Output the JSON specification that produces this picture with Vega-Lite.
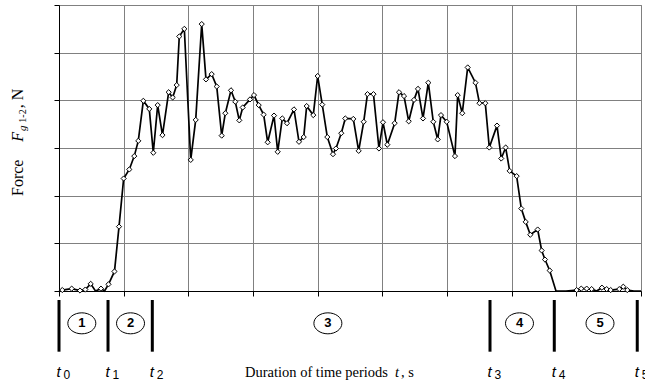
{
  "$schema": "https://vega.github.io/schema/vega-lite/v6.json",
  "width": 582,
  "height": 286,
  "autosize": {"type": "none"},
  "padding": {"left": 59, "top": 5, "right": 4, "bottom": 92},
  "background": "white",
  "config": {
    "view": {"stroke": "#808080", "strokeWidth": 1},
    "axis": {"labels": false, "domainColor": "#000", "domainWidth": 1, "tickColor": "#000", "tickSize": 5, "gridColor": "#808080", "gridOpacity": 1, "gridWidth": 1}
  },
  "datasets": {
    "force": [
      {"t":0,"F":0},{"t":0.051,"F":0.02},{"t":0.196,"F":0.05},{"t":0.325,"F":0.01},{"t":0.407,"F":0.03},
      {"t":0.49,"F":0.15},{"t":0.564,"F":0},{"t":0.649,"F":0.05},{"t":0.704,"F":0},{"t":0.765,"F":0.14},
      {"t":0.858,"F":0.41},{"t":0.928,"F":1.35},{"t":1.0,"F":2.36},{"t":1.087,"F":2.55},{"t":1.164,"F":2.83},
      {"t":1.226,"F":3.15},{"t":1.304,"F":3.99},{"t":1.396,"F":3.82},{"t":1.458,"F":2.9},{"t":1.526,"F":3.9},
      {"t":1.6,"F":3.27},{"t":1.696,"F":4.17},{"t":1.758,"F":4.06},{"t":1.82,"F":4.32},{"t":1.86,"F":5.34},
      {"t":1.938,"F":5.5},{"t":2.037,"F":2.75},{"t":2.114,"F":3.59},{"t":2.207,"F":5.6},{"t":2.273,"F":4.44},
      {"t":2.361,"F":4.55},{"t":2.439,"F":4.29},{"t":2.516,"F":3.26},{"t":2.572,"F":3.73},{"t":2.66,"F":4.21},
      {"t":2.726,"F":3.97},{"t":2.788,"F":3.58},{"t":2.841,"F":3.85},{"t":2.954,"F":4.02},{"t":3.015,"F":4.11},
      {"t":3.088,"F":3.9},{"t":3.165,"F":3.7},{"t":3.227,"F":3.12},{"t":3.325,"F":3.68},{"t":3.382,"F":2.92},
      {"t":3.453,"F":3.62},{"t":3.526,"F":3.52},{"t":3.634,"F":3.81},{"t":3.711,"F":3.13},{"t":3.784,"F":3.23},
      {"t":3.83,"F":3.88},{"t":3.932,"F":3.69},{"t":4.0,"F":4.51},{"t":4.071,"F":3.91},{"t":4.149,"F":3.23},
      {"t":4.237,"F":2.87},{"t":4.283,"F":2.99},{"t":4.365,"F":3.31},{"t":4.427,"F":3.62},{"t":4.551,"F":3.61},
      {"t":4.634,"F":2.94},{"t":4.712,"F":3.55},{"t":4.77,"F":4.13},{"t":4.863,"F":4.13},{"t":4.948,"F":2.99},
      {"t":5.01,"F":3.54},{"t":5.077,"F":3.07},{"t":5.191,"F":3.52},{"t":5.258,"F":4.17},{"t":5.335,"F":4.09},
      {"t":5.408,"F":3.56},{"t":5.49,"F":4.01},{"t":5.551,"F":4.24},{"t":5.629,"F":3.62},{"t":5.711,"F":4.37},
      {"t":5.788,"F":3.55},{"t":5.856,"F":3.18},{"t":5.907,"F":3.69},{"t":5.995,"F":3.55},{"t":6.123,"F":2.83},
      {"t":6.165,"F":4.11},{"t":6.236,"F":3.73},{"t":6.32,"F":4.69},{"t":6.44,"F":4.37},{"t":6.502,"F":3.94},
      {"t":6.592,"F":3.94},{"t":6.654,"F":3.01},{"t":6.773,"F":3.47},{"t":6.839,"F":2.78},{"t":6.907,"F":3.01},
      {"t":6.969,"F":2.52},{"t":7.077,"F":2.41},{"t":7.149,"F":1.73},{"t":7.217,"F":1.45},{"t":7.288,"F":1.18},
      {"t":7.402,"F":1.29},{"t":7.464,"F":0.85},{"t":7.515,"F":0.66},{"t":7.588,"F":0.43},{"t":7.685,"F":0},
      {"t":7.84,"F":0},{"t":8.005,"F":0.02},{"t":8.076,"F":0.05},{"t":8.16,"F":0.05},{"t":8.237,"F":0.04},
      {"t":8.314,"F":0},{"t":8.396,"F":0.07},{"t":8.469,"F":0.04},{"t":8.531,"F":0.02},{"t":8.664,"F":0.04},
      {"t":8.726,"F":0.09},{"t":8.788,"F":0.02},{"t":8.89,"F":0},{"t":9.0,"F":0}
    ],
    "periods": [
      {"k":"0","time":0},{"k":"1","time":0.758},{"k":"2","time":1.443},
      {"k":"3","time":6.665},{"k":"4","time":7.659},{"k":"5","time":8.942}
    ],
    "phases": [
      {"n":"1","c":0.353},{"n":"2","c":1.106},{"n":"3","c":4.158},{"n":"4","c":7.121},{"n":"5","c":8.366}
    ]
  },
  "layer": [
    {
      "data": {"name": "force"},
      "mark": {"type": "line", "color": "#000", "strokeWidth": 1.7},
      "encoding": {
        "x": {"field": "t", "type": "quantitative", "scale": {"domain": [0, 9], "nice": false}, "axis": {"values": [0,1,2,3,4,5,6,7,8,9], "title": null}},
        "y": {"field": "F", "type": "quantitative", "scale": {"domain": [0, 6], "nice": false}, "axis": {"values": [0,1,2,3,4,5,6], "title": null}}
      }
    },
    {
      "data": {"name": "force"},
      "transform": [{"filter": "datum.F > 0"}],
      "mark": {"type": "point", "shape": "diamond", "filled": true, "fill": "#fff", "stroke": "#000", "strokeWidth": 1, "size": 27, "opacity": 1},
      "encoding": {
        "x": {"field": "t", "type": "quantitative"},
        "y": {"field": "F", "type": "quantitative"}
      }
    },
    {
      "data": {"name": "periods"},
      "mark": {"type": "rule", "color": "#000", "strokeWidth": 3},
      "encoding": {
        "x": {"field": "time", "type": "quantitative"},
        "y": {"datum": -0.189},
        "y2": {"datum": -1.273}
      }
    },
    {
      "data": {"name": "phases"},
      "mark": {"type": "point", "shape": "M-1,0A1,0.75 0 1,0 1,0A1,0.75 0 1,0 -1,0Z", "filled": true, "fill": "#fff", "stroke": "#000", "strokeWidth": 1, "size": 784, "opacity": 1},
      "encoding": {
        "x": {"field": "c", "type": "quantitative"},
        "y": {"datum": -0.678}
      }
    },
    {
      "data": {"name": "phases"},
      "mark": {"type": "text", "font": "Liberation Sans", "fontWeight": "bold", "fontSize": 13, "align": "center", "baseline": "middle", "color": "#000"},
      "encoding": {
        "x": {"field": "c", "type": "quantitative"},
        "y": {"datum": -0.678},
        "text": {"field": "n"}
      }
    },
    {
      "data": {"name": "periods"},
      "mark": {"type": "text", "text": "t", "font": "Liberation Sans", "fontStyle": "italic", "fontSize": 15, "align": "left", "baseline": "alphabetic", "dx": -2.5, "color": "#000"},
      "encoding": {
        "x": {"field": "time", "type": "quantitative"},
        "y": {"datum": -1.81}
      }
    },
    {
      "data": {"name": "periods"},
      "mark": {"type": "text", "font": "Liberation Sans", "fontSize": 12, "align": "left", "baseline": "alphabetic", "dx": 4.5, "color": "#000"},
      "encoding": {
        "x": {"field": "time", "type": "quantitative"},
        "y": {"datum": -1.853},
        "text": {"field": "k"}
      }
    },
    {
      "data": {"values": [{"s": "Duration of time periods"}]},
      "mark": {"type": "text", "font": "Liberation Serif", "fontSize": 14.5, "align": "left", "baseline": "alphabetic", "color": "#000"},
      "encoding": {"x": {"datum": 2.876}, "y": {"datum": -1.81}, "text": {"field": "s"}}
    },
    {
      "data": {"values": [{"s": "t"}]},
      "mark": {"type": "text", "font": "Liberation Serif", "fontStyle": "italic", "fontSize": 14.5, "align": "left", "baseline": "alphabetic", "color": "#000"},
      "encoding": {"x": {"datum": 5.196}, "y": {"datum": -1.81}, "text": {"field": "s"}}
    },
    {
      "data": {"values": [{"s": ", s"}]},
      "mark": {"type": "text", "font": "Liberation Serif", "fontSize": 14.5, "align": "left", "baseline": "alphabetic", "color": "#000"},
      "encoding": {"x": {"datum": 5.288}, "y": {"datum": -1.81}, "text": {"field": "s"}}
    },
    {
      "data": {"values": [{"s": "Force"}]},
      "mark": {"type": "text", "font": "Liberation Serif", "fontSize": 16, "angle": 270, "align": "left", "baseline": "alphabetic", "color": "#000"},
      "encoding": {"x": {"datum": -0.557}, "y": {"datum": 1.993}, "text": {"field": "s"}}
    },
    {
      "data": {"values": [{"s": "F"}]},
      "mark": {"type": "text", "font": "Liberation Serif", "fontStyle": "italic", "fontSize": 16, "angle": 270, "align": "left", "baseline": "alphabetic", "color": "#000"},
      "encoding": {"x": {"datum": -0.557}, "y": {"datum": 3.132}, "text": {"field": "s"}}
    },
    {
      "data": {"values": [{"s": "g"}]},
      "mark": {"type": "text", "font": "Liberation Serif", "fontStyle": "italic", "fontSize": 11, "angle": 270, "align": "left", "baseline": "alphabetic", "color": "#000"},
      "encoding": {"x": {"datum": -0.51}, "y": {"datum": 3.356}, "text": {"field": "s"}}
    },
    {
      "data": {"values": [{"s": "1-2"}]},
      "mark": {"type": "text", "font": "Liberation Serif", "fontSize": 10, "angle": 270, "align": "left", "baseline": "alphabetic", "color": "#000"},
      "encoding": {"x": {"datum": -0.51}, "y": {"datum": 3.531}, "text": {"field": "s"}}
    },
    {
      "data": {"values": [{"s": ", N"}]},
      "mark": {"type": "text", "font": "Liberation Serif", "fontSize": 16, "angle": 270, "align": "left", "baseline": "alphabetic", "color": "#000"},
      "encoding": {"x": {"datum": -0.557}, "y": {"datum": 3.833}, "text": {"field": "s"}}
    }
  ]
}
